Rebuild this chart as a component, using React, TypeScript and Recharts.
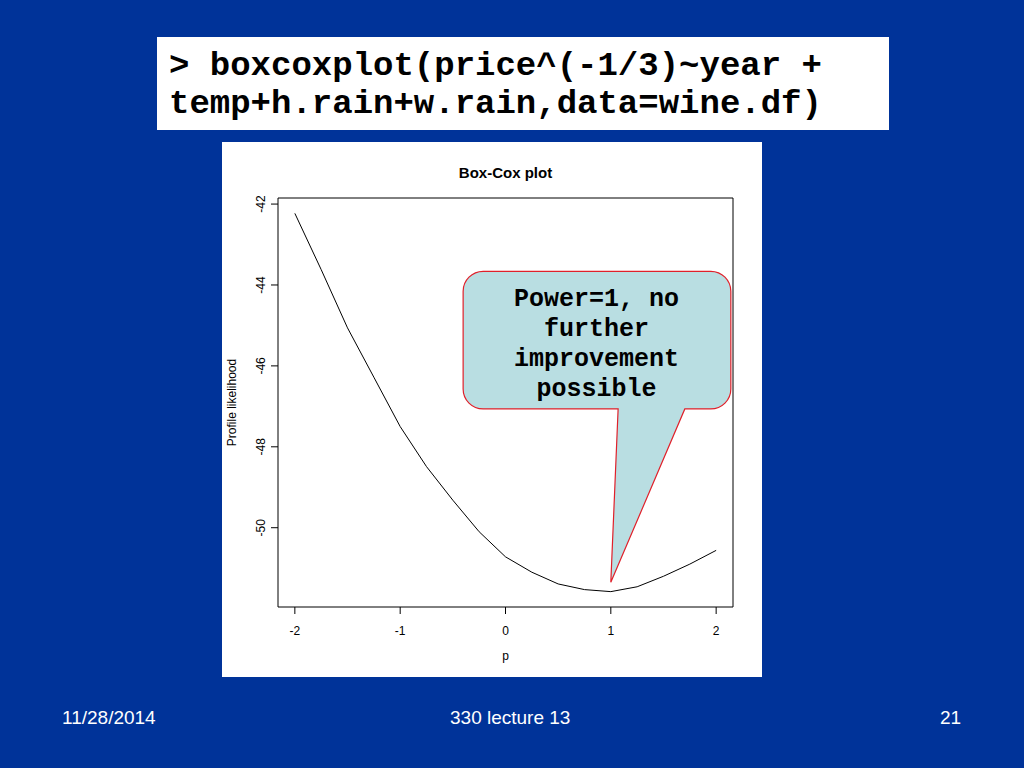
import { Line, LineChart, ReferenceArea, ReferenceDot, XAxis, YAxis } from "recharts";

// profile likelihood
const powers = [-2, -1.75, -1.5, -1.25, -1, -0.75, -0.5, -0.25, 0, 0.25, 0.5, 0.75, 1, 1.25, 1.5, 1.75, 2];
const likelihood = [
  -42.23, -43.62, -45.06, -46.28, -47.5, -48.49, -49.32, -50.1, -50.72, -51.1, -51.39, -51.53, -51.58, -51.46, -51.2,
  -50.9, -50.56,
];
const xTicks = [-2, -1, 0, 1, 2];
const yTicks = [-50, -48, -46, -44, -42];
const calloutLines = ["Power=1, no", "further", "improvement", "possible"];
const codeLines = ["> boxcoxplot(price^(-1/3)~year +", "temp+h.rain+w.rain,data=wine.df)"];

const data = powers.map((p, i) => ({ p, lik: likelihood[i] }));

const SANS = '"Liberation Sans", Arial, sans-serif';
const MONO = '"Liberation Mono", "Courier New", monospace';

const YTick = ({ x, y, payload }: any) => (
  <text x={x} y={y} transform={`rotate(-90, ${x}, ${y})`} textAnchor="middle" fontSize={12} fontFamily={SANS} fill="#000">
    {payload.value}
  </text>
);

const Callout = ({ cx, cy }: any) => {
  const l = cx - 147.7;
  const r = cx + 120;
  const t = cy - 311;
  const b = cy - 173.4;
  const rad = 20;
  const d = `M ${l + rad} ${t} H ${r - rad} A ${rad} ${rad} 0 0 1 ${r} ${t + rad} V ${b - rad} A ${rad} ${rad} 0 0 1 ${r - rad} ${b}
    H ${cx + 74} L ${cx} ${cy} L ${cx + 7.3} ${b} H ${l + rad} A ${rad} ${rad} 0 0 1 ${l} ${b - rad} V ${t + rad} A ${rad} ${rad} 0 0 1 ${l + rad} ${t} Z`;
  return (
    <g>
      <path d={d} fill="#B9DEE2" stroke="#E0202A" strokeWidth={1.2} />
      {calloutLines.map((s, i) => (
        <text
          key={s}
          x={cx - 14.3}
          y={cy - 276.7 + i * 30}
          textAnchor="middle"
          fontFamily={MONO}
          fontWeight="bold"
          fontSize={25}
          fill="#000"
        >
          {s}
        </text>
      ))}
    </g>
  );
};

const footer = { position: "absolute" as const, top: 707.1, color: "#fff", fontFamily: SANS, fontSize: 19 };

export default function App() {
  return (
    <div style={{ position: "absolute", left: 0, top: 0, width: 1024, height: 768, background: "#003399", overflow: "hidden" }}>
      <div
        style={{
          position: "absolute",
          left: 157,
          top: 37,
          width: 732,
          height: 93,
          background: "#fff",
          boxSizing: "border-box",
          paddingTop: 9.7,
          paddingLeft: 12,
          fontFamily: MONO,
          fontWeight: "bold",
          fontSize: 34,
          lineHeight: "38.5px",
          whiteSpace: "pre",
          color: "#000",
        }}
      >
        {codeLines.map((s) => (
          <div key={s}>{s}</div>
        ))}
      </div>

      <div style={{ position: "absolute", left: 222, top: 142, width: 540, height: 535, background: "#fff" }}>
        <LineChart width={540} height={535} data={data} margin={{ top: 56, right: 29, left: 0, bottom: 0 }}>
          <text x={283.5} y={35.5} textAnchor="middle" fontFamily={SANS} fontWeight="bold" fontSize={15} fill="#000">
            Box-Cox plot
          </text>
          <XAxis
            dataKey="p"
            type="number"
            domain={[-2.16, 2.16]}
            ticks={xTicks}
            height={70}
            axisLine={false}
            tickSize={7}
            tickMargin={12}
            tickLine={{ stroke: "#000" }}
            tick={{ fontSize: 12, fontFamily: SANS, fill: "#000" }}
            label={{ value: "p", position: "insideBottom", offset: 0, dy: -17, fontSize: 12, fontFamily: SANS, fill: "#000" }}
          />
          <YAxis
            type="number"
            domain={[-51.96, -41.85]}
            ticks={yTicks}
            width={56}
            axisLine={false}
            tickSize={7}
            tickMargin={6}
            tickLine={{ stroke: "#000" }}
            tick={<YTick />}
            label={(props: any) => {
              const vb = props.viewBox;
              const cy = vb.y + vb.height / 2;
              return (
                <text x={14} y={cy} transform={`rotate(-90, 14, ${cy})`} textAnchor="middle" fontSize={12} fontFamily={SANS} fill="#000">
                  Profile likelihood
                </text>
              );
            }}
          />
          <ReferenceArea x1={-2.16} x2={2.16} y1={-51.96} y2={-41.85} fill="none" stroke="#000" strokeWidth={1} />
          <Line type="linear" dataKey="lik" stroke="#000" strokeWidth={1} dot={false} isAnimationActive={false} />
          <ReferenceDot x={1} y={-51.35} shape={(props: any) => <Callout {...props} />} />
        </LineChart>
      </div>

      <div style={{ ...footer, left: 62 }}>11/28/2014</div>
      <div style={{ ...footer, left: 450 }}>330 lecture 13</div>
      <div style={{ ...footer, left: 940 }}>21</div>
    </div>
  );
}
